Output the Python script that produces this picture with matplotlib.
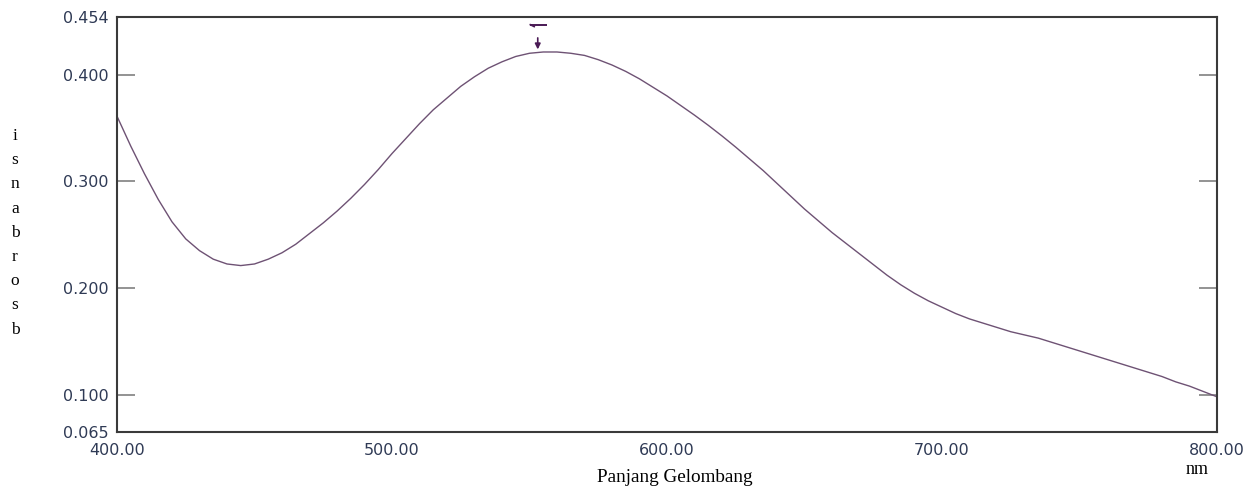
import matplotlib
matplotlib.use('Agg')
import matplotlib.pyplot as plt

# absorbance spectrum, every 5 nm
wavelength = list(range(400, 805, 5))
absorbance = [0.361, 0.333, 0.307, 0.283, 0.262, 0.246, 0.235, 0.227, 0.2225,
              0.221, 0.2225, 0.227, 0.233, 0.241, 0.251, 0.261, 0.272, 0.284,
              0.297, 0.311, 0.326, 0.340, 0.354, 0.367, 0.378, 0.389, 0.398,
              0.406, 0.412, 0.417, 0.420, 0.4212, 0.4212, 0.420, 0.418, 0.414,
              0.409, 0.403, 0.396, 0.388, 0.380, 0.371, 0.362, 0.3525, 0.3425,
              0.332, 0.321, 0.310, 0.298, 0.286, 0.274, 0.263, 0.252, 0.242,
              0.232, 0.222, 0.212, 0.203, 0.195, 0.188, 0.182, 0.176, 0.171,
              0.167, 0.163, 0.159, 0.156, 0.153, 0.149, 0.145, 0.141, 0.137,
              0.133, 0.129, 0.125, 0.121, 0.117, 0.112, 0.108, 0.103, 0.098]

peak_nm = 553.0
peak_abs = 0.421

y_ticks = [0.065, 0.100, 0.200, 0.300, 0.400, 0.454]
x_ticks = [400, 500, 600, 700, 800]

fig = plt.figure(figsize=(12.53, 4.95), dpi=100)
ax = fig.add_axes([117 / 1253, 63 / 495, 1100 / 1253, 415 / 495])

ax.plot(wavelength, absorbance, color='#6e5274', lw=1.0)

# peak marker: down arrow plus the small left harpoon above it
mark = '#4a1a55'
ax.annotate('', xy=(peak_nm, peak_abs), xytext=(peak_nm, peak_abs + 0.016),
            arrowprops=dict(arrowstyle='-|>', color=mark, lw=1.2,
                            mutation_scale=8))
ax.plot([peak_nm - 2.7, peak_nm + 3.2], [0.4468, 0.4468], color=mark, lw=1.4,
        solid_capstyle='butt')
ax.plot([peak_nm - 2.7, peak_nm - 1.3], [0.4468, 0.4450], color=mark, lw=1.2)

ax.set_xlim(400, 800)
ax.set_ylim(0.065, 0.454)
ax.set_xticks(x_ticks)
ax.set_xticklabels([f'{v:.2f}' for v in x_ticks])
ax.set_yticks(y_ticks)
ax.set_yticklabels([f'{v:.3f}' for v in y_ticks])

tick_color = '#2f3a55'
ax.tick_params(axis='y', direction='in', length=13, width=1.2,
               color='#808080', left=True, right=True, pad=6,
               labelsize=11.5, labelcolor=tick_color)
ax.tick_params(axis='x', length=0, pad=8, labelsize=11.5,
               labelcolor=tick_color)
for lab in ax.get_xticklabels() + ax.get_yticklabels():
    lab.set_family('DejaVu Sans')

for s in ax.spines.values():
    s.set_color('#3a3a3a')
    s.set_linewidth(1.5)

# vertical stacked y label
for i, ch in enumerate('isnabrosb'):
    fig.text(15 / 1253, 1 - (136 + i * 24.2) / 495, ch, family='Liberation Serif',
             fontsize=12.5, ha='center', va='center', color='black')

fig.text(675 / 1253, 1 - 478 / 495, 'Panjang Gelombang',
         family='Liberation Serif', fontsize=13.8, ha='center', va='center')
fig.text(1197 / 1253, 1 - 469 / 495, 'nm', family='Liberation Serif',
         fontsize=13, ha='center', va='center')

fig.savefig('out.png', dpi=100)
